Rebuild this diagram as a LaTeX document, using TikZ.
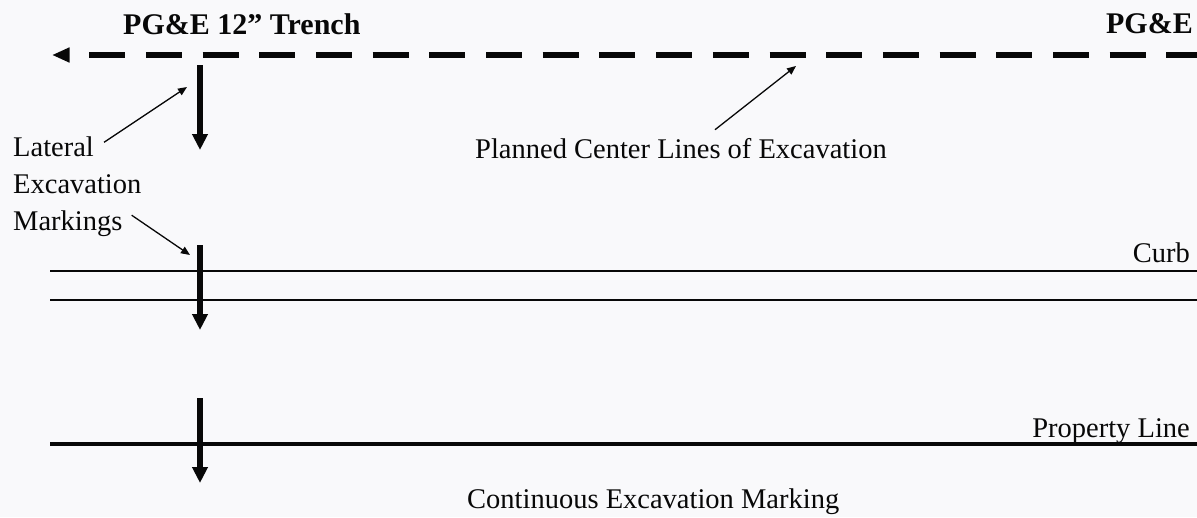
\documentclass[tikz,border=0pt]{standalone}
\usepackage{fontspec}
\setmainfont{Liberation Serif}
\usetikzlibrary{arrows.meta,positioning}
\definecolor{SitePaper}{RGB}{249,249,251}
\definecolor{SiteInk}{RGB}{8,8,8}
\tikzset{
  site/label/.style={
    inner sep=0pt,
    text=SiteInk,
    font=\fontsize{28.5}{34}\selectfont
  },
  site/title/.style={
    inner sep=0pt,
    text=SiteInk,
    font=\bfseries\fontsize{30}{36}\selectfont
  },
  site/center/.style={{Triangle[length=17.5pt,width=14pt]}-, line width=6.5pt, draw=SiteInk,
    dash pattern=on 36pt off 20.7pt, dash phase=36pt},
  site/mark/.style={-{Triangle[length=16pt,width=15pt]}, line width=5.3pt, draw=SiteInk},
  site/pointer/.style={-{Triangle[length=9pt,width=7.5pt]}, line width=1.3pt, draw=SiteInk},
  site/curb/.style={line width=2.7pt, draw=SiteInk},
  site/property/.style={line width=4.2pt, draw=SiteInk}
}

\begin{document}
\begin{tikzpicture}[x=1pt,y=-1pt]
  \fill[SitePaper] (0,0) rectangle (1197,517);
  \useasboundingbox (0,0) rectangle (1197,517);

  % trench centre line
  \node[site/title,anchor=base west] (trench) at (123,34) {PG\&E 12” Trench};
  \node[site/title,anchor=base east] (pge) at (1193,33) {PG\&E};
  \coordinate (ctip) at (52,55);
  \coordinate (cend) at (1197,55);
  \draw[site/center] (ctip) -- (cend);

  % curb and property line
  \foreach \i/\y in {1/271,2/300}{
    \coordinate (curbL\i) at (50,\y);
    \coordinate (curbR\i) at (1197,\y);
    \draw[site/curb] (curbL\i) -- (curbR\i);
  }
  \coordinate (propL) at (50,444);
  \coordinate (propR) at (1197,444);
  \draw[site/property] (propL) -- (propR);
  \node[site/label,anchor=base east] (curb) at (1190,262) {Curb};
  \node[site/label,anchor=base east] (prop) at (1190,437) {Property Line};

  % lateral markings
  \foreach \i/\y in {1/65,2/245,3/398}{
    \coordinate (mtop\i) at (200,\y);
    \coordinate (mtip\i) at (200,\y+85);
    \draw[site/mark] (mtop\i) -- (mtip\i);
  }

  % labels and pointers
  \node[site/label,anchor=base west] (lateral) at (13,156) {Lateral};
  \node[site/label,anchor=base west] (excav) at (13,193) {Excavation};
  \node[site/label,anchor=base west] (markings) at (13,230) {Markings};
  \node[site/label,anchor=base west] (planned) at (475,158) {Planned Center Lines of Excavation};
  \node[site/label,anchor=base west] (contin) at (467,508) {Continuous Excavation Marking};
  \coordinate (latTip) at (187,87);
  \coordinate (markTip) at (190,255);
  \coordinate (planTip) at (796,66);
  \draw[site/pointer] ([xshift=10pt,yshift=4pt]lateral.east) -- (latTip);
  \draw[site/pointer] ([xshift=9pt,yshift=8pt]markings.east) -- (markTip);
  \draw[site/pointer] ([xshift=34pt,yshift=8pt]planned.north) -- (planTip);
\end{tikzpicture}
\end{document}
